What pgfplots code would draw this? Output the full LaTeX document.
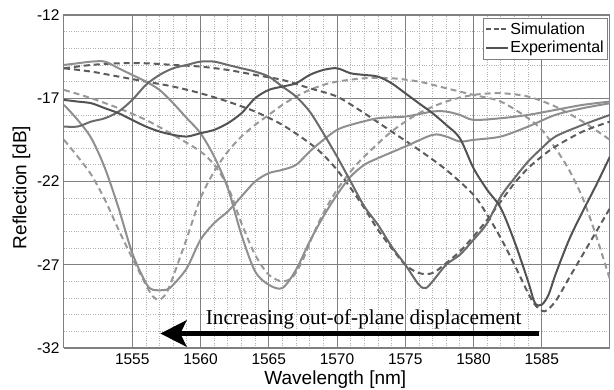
\documentclass[border=0pt]{standalone}
\usepackage{fontspec}
\setmainfont{Liberation Sans}
\newfontfamily\timesfont{Liberation Serif}
\usepackage{pgfplots}
\pgfplotsset{compat=1.18}
\usetikzlibrary{arrows.meta}
\definecolor{simlight}{gray}{0.60}
\definecolor{simdark}{gray}{0.36}
\definecolor{explight}{gray}{0.56}
\definecolor{expmid}{gray}{0.42}
\definecolor{expdark}{gray}{0.32}
\definecolor{gridmajor}{gray}{0.50}
\definecolor{gridminor}{gray}{0.70}
\tikzset{sim/.style={dash pattern=on 6pt off 4pt, line width=2pt},
         exp/.style={line width=2pt}}
\begin{document}
\begin{tikzpicture}
\useasboundingbox (0,0) rectangle (614pt,390pt);
\begin{axis}[
  at={(64pt,42pt)}, anchor=south west,
  width=546pt, height=333pt, scale only axis,
  xmin=1550, xmax=1590, ymin=-32, ymax=-12,
  xtick={1555,1560,...,1585}, ytick={-32,-27,...,-12},
  minor x tick num=4, minor y tick num=4,
  grid=both,
  major grid style={gridmajor, line width=0.9pt},
  minor grid style={gridminor, dotted, line width=0.7pt},
  major tick length=0pt, minor tick length=0pt,
  axis line style={gridmajor, line width=1pt},
  /pgf/number format/assume math mode=true,
  /pgf/number format/set thousands separator={},
  ticklabel style={font=\fontsize{15.5}{18}\selectfont},
  yticklabel style={xshift=-1pt},
  xticklabel style={yshift=-2pt},
  xlabel={Wavelength [nm]}, ylabel={Reflection [dB]},
  xlabel style={at={(axis description cs:0.497,-0.096)}, anchor=center, font=\fontsize{19}{22}\selectfont},
  ylabel style={at={(axis description cs:-0.078,0.482)}, anchor=center, font=\fontsize{19}{22}\selectfont},
  legend style={at={(0.9945,0.991)}, anchor=north east, draw=gridmajor,
    inner sep=2pt, row sep=0pt,
    cells={anchor=west, font=\fontsize{16}{18}\selectfont},
    nodes={inner xsep=1pt, inner ysep=2.6pt}},
  legend image code/.code={\draw[#1] (0pt,0pt) -- (22pt,0pt);},
]
\addlegendimage{simdark, line width=2pt, dash pattern=on 5pt off 2.5pt}
\addlegendentry{Simulation}
\addlegendimage{expdark, line width=2.2pt}
\addlegendentry{Experimental}

% Simulation D1 (dip ~1556.8)
\addplot[sim, simlight, smooth, forget plot] coordinates {
(1550,-19.5)(1551,-20.5)(1552,-21.6)(1553,-23.1)(1554,-24.9)(1555,-26.6)(1556,-28.2)(1556.5,-28.9)(1557,-29.1)(1557.5,-28.7)(1558,-27.7)(1559,-25.4)(1560,-23.0)(1561,-21.4)(1562,-20.2)(1563,-19.3)(1564,-18.6)(1565,-18.0)(1566,-17.4)(1567,-16.9)(1568,-16.5)(1569,-16.2)(1570,-16.0)(1572,-15.8)(1574,-15.8)(1576,-16.0)(1578,-16.4)(1580,-16.8)(1582,-17.2)(1584,-18.2)(1585,-18.9)(1586,-20.0)(1587,-21.3)(1588,-23.0)(1589,-25.3)(1590,-27.9)};
% Simulation D2 (dip ~1566)
\addplot[sim, simlight, smooth, forget plot] coordinates {
(1550,-16.5)(1552,-17.0)(1554,-17.6)(1556,-18.3)(1558,-19.2)(1560,-20.2)(1561,-21.0)(1562,-22.3)(1563,-24.5)(1564,-26.4)(1565,-27.6)(1566,-28.0)(1566.8,-27.7)(1567.5,-26.7)(1568.2,-25.3)(1569,-23.9)(1570,-22.5)(1571,-21.4)(1572,-20.5)(1574,-19.0)(1576,-17.9)(1578,-17.2)(1580,-16.8)(1582,-16.7)(1584,-16.9)(1586,-17.5)(1588,-18.4)(1590,-19.5)};
% Simulation D3 (dip ~1576.3)
\addplot[sim, simdark, smooth, forget plot] coordinates {
(1550,-15.2)(1552,-15.4)(1554,-15.7)(1556,-16.0)(1558,-16.3)(1560,-16.7)(1562,-17.2)(1564,-17.8)(1566,-18.6)(1568,-19.7)(1569,-20.4)(1570,-21.3)(1571,-22.4)(1572,-23.6)(1573,-24.9)(1574,-26.0)(1575,-27.0)(1576,-27.5)(1577,-27.5)(1578,-26.9)(1579,-26.2)(1580,-25.3)(1581,-24.3)(1582,-23.2)(1583,-22.1)(1584,-21.2)(1585,-20.5)(1586,-19.9)(1588,-19.0)(1590,-18.4)};
% Simulation D4 (dip ~1585.2)
\addplot[sim, simdark, smooth, forget plot] coordinates {
(1550,-15.2)(1552,-15.0)(1554,-14.9)(1556,-14.9)(1558,-15.0)(1560,-15.1)(1562,-15.3)(1564,-15.6)(1566,-15.9)(1568,-16.4)(1570,-16.9)(1572,-17.9)(1574,-19.0)(1576,-20.1)(1578,-21.3)(1580,-22.8)(1581,-24.0)(1582,-25.4)(1583,-27.0)(1584,-28.7)(1584.5,-29.4)(1585.2,-29.8)(1586,-29.2)(1587,-27.8)(1588,-26.4)(1589,-25.0)(1590,-23.6)};

% Experimental E1 (dip ~1557)
\addplot[exp, explight, smooth, forget plot] coordinates {
(1550,-17.4)(1551,-18.3)(1552,-19.4)(1553,-21.2)(1554,-23.6)(1555,-26.3)(1556,-28.1)(1556.5,-28.5)(1557.5,-28.5)(1558,-28.2)(1559,-27.2)(1560,-25.5)(1561,-24.5)(1562,-23.8)(1563,-22.9)(1564,-22.0)(1565,-21.5)(1566,-21.3)(1567,-21.0)(1568,-20.2)(1569,-19.5)(1570,-18.9)(1571,-18.6)(1573,-18.2)(1575,-18.1)(1577,-17.8)(1578,-17.8)(1579,-18.0)(1580,-18.3)(1582,-18.2)(1584,-18.0)(1586,-17.7)(1588,-17.4)(1590,-17.2)};
% Experimental E2 (dip ~1566)
\addplot[exp, explight, smooth, forget plot] coordinates {
(1550,-15.0)(1551,-14.9)(1552,-14.8)(1553,-14.8)(1554,-15.2)(1555,-15.6)(1556,-16.0)(1557,-16.5)(1558,-17.3)(1559,-18.2)(1560,-19.1)(1561,-20.5)(1562,-22.4)(1563,-25.2)(1564,-27.4)(1565,-28.2)(1566,-28.4)(1567,-27.3)(1568,-25.6)(1569,-24.1)(1570,-22.8)(1571,-21.7)(1572,-21.0)(1573,-20.6)(1575,-19.9)(1577,-19.2)(1578,-19.3)(1579,-19.6)(1580,-19.5)(1582,-19.3)(1584,-18.7)(1586,-18.0)(1588,-17.6)(1590,-17.3)};
% Experimental E3 (dip ~1576.4)
\addplot[exp, expmid, smooth, forget plot] coordinates {
(1550,-18.7)(1551,-18.7)(1552,-18.4)(1553,-18.2)(1554,-17.8)(1555,-17.1)(1556,-16.2)(1557,-15.6)(1558,-15.2)(1559,-15.0)(1560,-14.8)(1561,-14.8)(1562,-15.0)(1563,-15.2)(1564,-15.4)(1565,-15.7)(1566,-16.3)(1567,-16.9)(1568,-17.8)(1569,-19.1)(1570,-20.5)(1571,-22.0)(1572,-23.5)(1573,-24.6)(1574,-25.9)(1575,-27.0)(1576,-28.2)(1576.5,-28.4)(1577,-28.0)(1578,-27.0)(1579,-26.4)(1580,-25.5)(1581,-24.5)(1582,-22.9)(1583,-21.8)(1584,-20.8)(1585,-20.0)(1586,-19.3)(1588,-18.6)(1590,-18.0)};
% Experimental E4 (dip ~1585)
\addplot[exp, expdark, smooth, forget plot] coordinates {
(1550,-17.1)(1551,-17.2)(1552,-17.3)(1553,-17.6)(1554,-17.9)(1555,-18.3)(1556,-18.7)(1557,-19.0)(1558,-19.2)(1559,-19.3)(1560,-19.1)(1561,-18.9)(1562,-18.5)(1563,-17.9)(1564,-17.0)(1565,-16.5)(1566,-16.3)(1567,-16.1)(1568,-15.6)(1569,-15.3)(1570,-15.2)(1571,-15.5)(1572,-15.6)(1573,-15.7)(1574,-16.1)(1575,-16.7)(1576,-17.3)(1577,-17.9)(1578,-18.6)(1579,-19.4)(1580,-21.2)(1581,-22.5)(1582,-23.6)(1583,-25.6)(1584,-28.0)(1584.5,-29.3)(1585,-29.4)(1585.5,-28.8)(1586,-27.6)(1587,-25.5)(1588,-23.8)(1589,-22.2)(1590,-20.5)};

\draw[line width=5pt, -{Stealth[length=26pt, width=26pt, inset=6pt]}]
  (axis cs:1584.8,-31.13) -- (axis cs:1557.06,-31.13);
\node[anchor=base, inner sep=0pt, font=\timesfont\fontsize{21.2}{24}\selectfont]
  at (axis cs:1571.95,-30.58) {Increasing out-of-plane displacement};
\end{axis}
\end{tikzpicture}
\end{document}
